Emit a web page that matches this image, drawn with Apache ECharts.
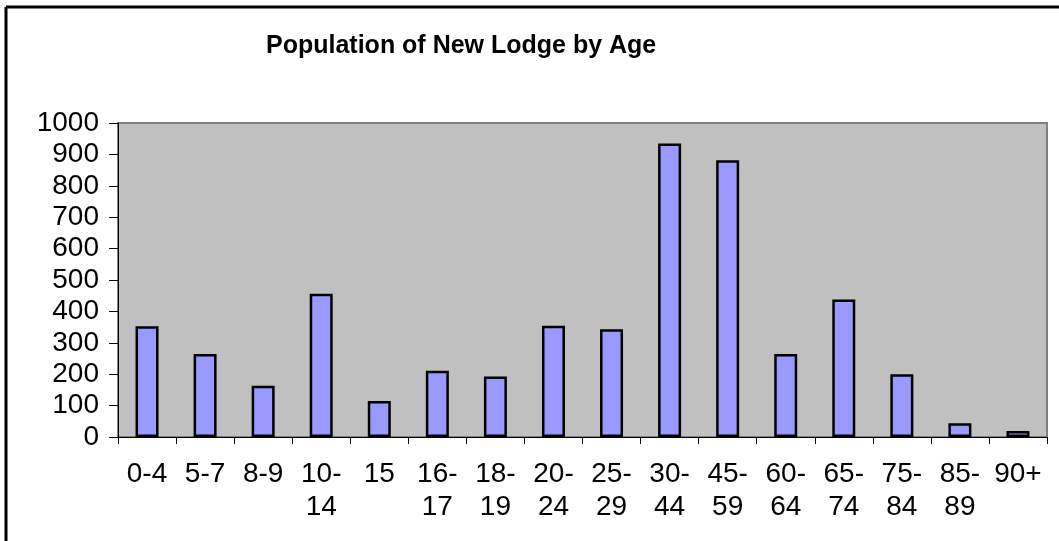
<!DOCTYPE html>
<html>
<head>
<meta charset="utf-8">
<script src="https://cdn.jsdelivr.net/npm/echarts@6/dist/echarts.min.js"></script>
<style>
  html, body { margin: 0; padding: 0; background: #fff; }
  #chart { width: 1059px; height: 541px; }
</style>
</head>
<body>
<div id="chart"></div>
<script>
const ageGroups = ['0-4', '5-7', '8-9', '10-14', '15', '16-17', '18-19', '20-24',
  '25-29', '30-44', '45-59', '60-64', '65-74', '75-84', '85-89', '90+']
const population = [353, 264, 163, 456, 115, 211, 193, 354,
  343, 935, 881, 264, 438, 200, 44, 19]
const yTicks = { min: 0, max: 1000, interval: 100 }

const chart = echarts.init(document.getElementById('chart'))
const font = '"Liberation Sans", Arial, sans-serif'

chart.setOption({
  backgroundColor: '#fff',
  animation: false,
  title: {
    text: 'Population of New Lodge by Age',
    left: 261,
    top: 29,
    textStyle: { fontFamily: font, fontSize: 25, fontWeight: 'bold', color: '#000' }
  },
  grid: {
    left: 118,
    right: 12,
    top: 123,
    bottom: 104,
    show: true,
    backgroundColor: '#c0c0c0',
    borderColor: '#808080',
    borderWidth: 2
  },
  // outer frame, only top and left edges show in the picture
  graphic: [
    { type: 'line', shape: { x1: 6, y1: 7, x2: 1059, y2: 7 }, style: { stroke: '#000', lineWidth: 3 } },
    { type: 'line', shape: { x1: 6, y1: 7, x2: 6, y2: 541 }, style: { stroke: '#000', lineWidth: 3 } }
  ],
  xAxis: {
    type: 'category',
    data: ageGroups,
    axisLine: { lineStyle: { color: '#000', width: 1 } },
    axisTick: { show: true, length: 7, lineStyle: { color: '#000' } },
    axisLabel: {
      interval: 0,
      margin: 21,
      color: '#000',
      fontFamily: font,
      fontSize: 28,
      lineHeight: 33,
      formatter: function (v) {
        return v.length > 3 && v.indexOf('-') > 0 ? v.replace('-', '-\n') : v
      }
    }
  },
  yAxis: {
    type: 'value',
    min: yTicks.min,
    max: yTicks.max,
    interval: yTicks.interval,
    axisLine: { show: true, lineStyle: { color: '#000', width: 1 } },
    axisTick: { show: true, length: 9, lineStyle: { color: '#000' } },
    splitLine: { show: false },
    axisLabel: {
      margin: 19,
      color: '#000',
      fontFamily: font,
      fontSize: 28,
      formatter: function (v) { return String(v) }
    }
  },
  series: [
    {
      type: 'bar',
      data: population,
      barWidth: 23,
      itemStyle: { color: '#9999ff', borderColor: '#000', borderWidth: 2.5 }
    }
  ]
})
</script>
</body>
</html>
